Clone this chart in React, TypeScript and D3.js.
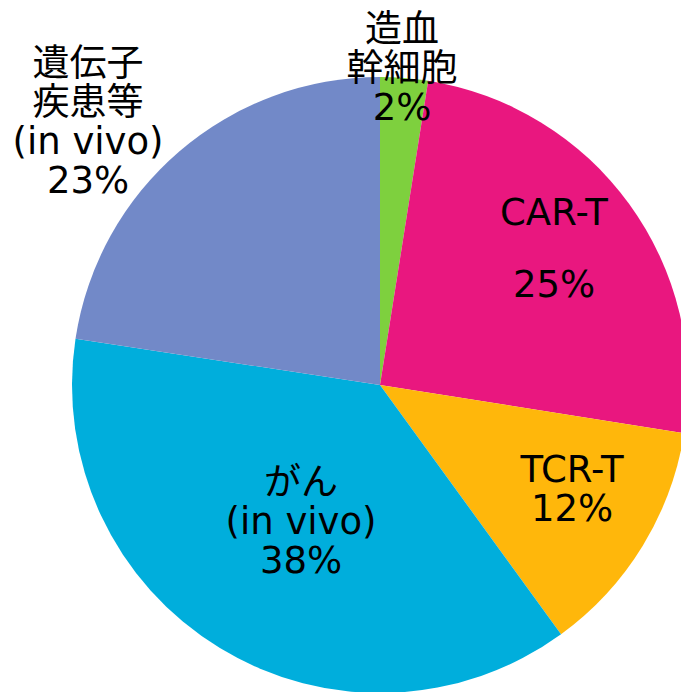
import { useEffect, useRef } from "react";
import * as d3 from "d3";

// slice order: clockwise from 12 o'clock
const categories = ["造血幹細胞", "CAR-T", "TCR-T", "がん", "遺伝子疾患等"];
const shares = [2.5, 25, 12.5, 37.4, 22.6];
const labelLines = [
  ["造血", "幹細胞", "2%"],
  ["CAR-T", "", "25%"],
  ["TCR-T", "12%"],
  ["がん", "(in vivo)", "38%"],
  ["遺伝子", "疾患等", "(in vivo)", "23%"],
];
const colors = ["#7ed03e", "#e9177f", "#ffb70b", "#00aedc", "#7289c8"];

// label anchor (center x, first baseline y) for each slice
const labelAnchors: [number, number][] = [
  [402, 42],
  [554, 225],
  [572, 482],
  [301, 495],
  [88, 76],
];

function App() {
  const ref = useRef<SVGSVGElement | null>(null);

  useEffect(() => {
    const width = 681;
    const height = 692;
    const cx = 380;
    const cy = 385;
    const radius = 308;

    const svg = d3.select(ref.current);
    svg.selectAll("*").remove();
    svg.attr("width", width).attr("height", height);

    const data = categories.map((c, i) => ({ name: c, value: shares[i], i }));

    const pie = d3
      .pie<{ name: string; value: number; i: number }>()
      .value((d) => d.value)
      .sort(null);

    const arc = d3
      .arc<d3.PieArcDatum<{ name: string; value: number; i: number }>>()
      .innerRadius(0)
      .outerRadius(radius);

    const g = svg.append("g").attr("transform", `translate(${cx},${cy})`);

    g.selectAll("path")
      .data(pie(data))
      .enter()
      .append("path")
      .attr("d", arc)
      .attr("fill", (d) => colors[d.data.i]);

    // labels
    const lineHeight = 39;
    labelLines.forEach((lines, i) => {
      const [x, y] = labelAnchors[i];
      const t = svg
        .append("text")
        .attr("text-anchor", "middle")
        .attr("font-family", "'DejaVu Sans', 'Noto Sans CJK JP', sans-serif")
        .attr("font-size", 37)
        .attr("fill", "#000");
      lines.forEach((line, k) => {
        t.append("tspan")
          .attr("x", x)
          .attr("y", y + k * (i === 1 ? 36 : lineHeight))
          .text(line);
      });
    });
  }, []);

  return (
    <svg
      ref={ref}
      style={{ position: "absolute", left: 0, top: 0, background: "#fff" }}
    />
  );
}

export default App;
